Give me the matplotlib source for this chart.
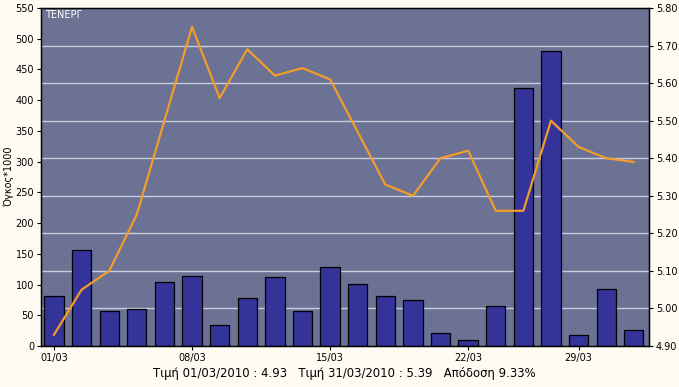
import matplotlib
matplotlib.use("Agg")
import matplotlib.pyplot as plt
import numpy as np

dates = ["01/03", "02/03", "03/03", "04/03", "05/03", "08/03", "09/03", "10/03",
         "11/03", "12/03", "15/03", "16/03", "17/03", "18/03", "19/03", "22/03",
         "23/03", "24/03", "26/03", "29/03", "30/03", "31/03"]
volume = [81, 156, 57, 60, 104, 114, 34, 78, 112, 57, 128, 101, 81, 75, 21, 10,
          65, 420, 480, 18, 93, 26]
price = [4.93, 5.05, 5.10, 5.25, 5.50, 5.75, 5.56, 5.69, 5.62, 5.64, 5.61, 5.47,
         5.33, 5.30, 5.40, 5.42, 5.26, 5.26, 5.50, 5.43, 5.40, 5.39]
tick_labels = ["01/03", "08/03", "15/03", "22/03", "29/03"]
left_ticks = list(range(0, 551, 50))
right_ticks = [4.90, 5.00, 5.10, 5.20, 5.30, 5.40, 5.50, 5.60, 5.70, 5.80]
title = "ΤΕΝΕΡΓ"
footer = "Τιμή 01/03/2010 : 4.93   Τιμή 31/03/2010 : 5.39   Απόδοση 9.33%"

fig = plt.figure(figsize=(6.79, 3.87), dpi=100, facecolor="#FFFAF2")
ax = fig.add_axes([41/679, 41/387, 608/679, 338/387])
ax.set_facecolor("#6B7294")
x = np.arange(len(dates))

ymin, ymax = 0, 550
rmin, rmax = 4.90, 5.80
for v in right_ticks[1:-1]:
    yv = ymin + (v - rmin) / (rmax - rmin) * (ymax - ymin)
    ax.axhline(yv, color="#C9CCDD", lw=1, zorder=1)

ax.bar(x, volume, width=0.7, color="#333399", edgecolor="black", linewidth=0.9, zorder=2)
ax.set_ylim(ymin, ymax)
ax.set_xlim(-0.47, len(dates) - 0.45)
ax.set_yticks(left_ticks)
ax.tick_params(axis="y", labelsize=7, length=3, direction="out", pad=2)
ax.set_ylabel("Όγκος*1000", fontsize=7, labelpad=1)
idx = [dates.index(t) for t in tick_labels]
ax.set_xticks(idx)
ax.set_xticklabels(tick_labels)
ax.tick_params(axis="x", labelsize=7, length=3, direction="out", pad=2)
for s in ax.spines.values():
    s.set_color("black")
    s.set_linewidth(1)

ax2 = ax.twinx()
ax2.plot(x, price, color="#F39C2B", lw=1.6, zorder=3)
ax2.set_ylim(rmin, rmax)
ax2.set_yticks(right_ticks)
ax2.set_yticklabels([f"{v:.2f}" for v in right_ticks])
ax2.tick_params(axis="y", labelsize=7, length=3, direction="out", pad=2)
ax2.spines["right"].set_color("black")

ax.text(0.006, 0.995, title, transform=ax.transAxes, color="white", fontsize=7,
        ha="left", va="top")
fig.text(344/679, 1 - 374/387, footer, fontsize=8.4, ha="center", va="center")

fig.savefig("out.png", dpi=100, facecolor=fig.get_facecolor())
